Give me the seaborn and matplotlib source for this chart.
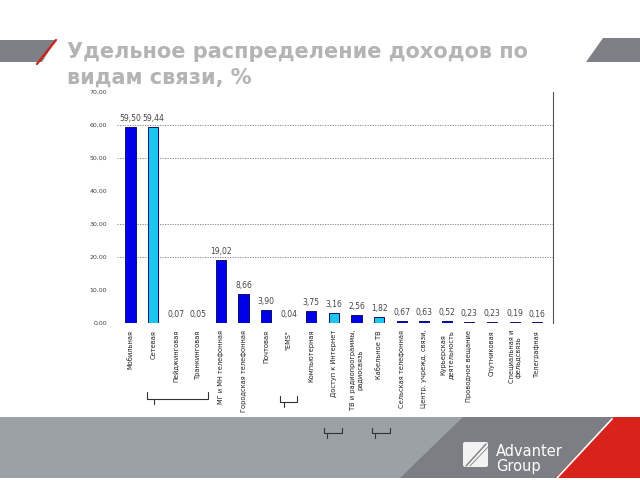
import matplotlib
matplotlib.use("Agg")
import matplotlib.pyplot as plt
import matplotlib.patches as mpatches
from matplotlib.lines import Line2D
import seaborn as sns
import pandas as pd

categories = ["Мобильная", "Сетевая", "Пейджинговая", "Транкинговая",
              "МГ и МН телефонная", "Городская телефонная", "Почтовая", "\"ЕМЅ\"",
              "Компьютерная", "Доступ к Интернет", "ТВ и радиопрограммы,\nрадиосвязь",
              "Кабельное ТВ", "Сельская телефонная", "Центр. учрежд. связи,",
              "Курьерская\nдеятельность", "Проводное вещание", "Спутниковая",
              "Специальная и\nфельдсвязь", "Телеграфная"]
values = [59.50, 59.44, 0.07, 0.05, 19.02, 8.66, 3.90, 0.04, 3.75, 3.16, 2.56,
          1.82, 0.67, 0.63, 0.52, 0.23, 0.23, 0.19, 0.16]
value_labels = ["59,50", "59,44", "0,07", "0,05", "19,02", "8,66", "3,90", "0,04",
                "3,75", "3,16", "2,56", "1,82", "0,67", "0,63", "0,52", "0,23",
                "0,23", "0,19", "0,16"]
cyan_items = ["Сетевая", "Доступ к Интернет", "Кабельное ТВ"]
yticks = [0, 10, 20, 30, 40, 50, 60, 70]
ytick_labels = ["0,00", "10,00", "20,00", "30,00", "40,00", "50,00", "60,00", "70,00"]
grid_levels = [20, 30, 50, 60]
title = "Удельное распределение доходов по\nвидам связи, %"

BLUE = "#0000E8"
CYAN = "#1CC6EE"
EDGE = "#10106A"

df = pd.DataFrame({"cat": categories, "val": values})
palette = {c: (CYAN if c in cyan_items else BLUE) for c in categories}

sns.set_style("white")
plt.rcParams['font.family'] = ['DejaVu Sans']

fig = plt.figure(figsize=(6.4, 4.8), dpi=100)
fig.patch.set_facecolor("white")

# ---- slide decorations ----
deco = fig.add_axes([0, 0, 1, 1], zorder=0)
deco.set_xlim(0, 640)
deco.set_ylim(480, 0)
deco.axis("off")
deco.add_patch(mpatches.Polygon([[0, 40], [56, 40], [42, 62], [0, 62]], closed=True,
                                color="#7d8185", lw=0))
deco.add_line(Line2D([37, 56], [64, 40], color="#d0201a", lw=1.6))
deco.add_patch(mpatches.Polygon([[603, 38], [640, 38], [640, 62], [586, 62]], closed=True,
                                color="#7d8185", lw=0))
deco.add_patch(mpatches.Rectangle((0, 417), 640, 61, color="#9ca1a5", lw=0))
deco.add_patch(mpatches.Polygon([[463, 417], [640, 417], [640, 478], [400, 478]], closed=True,
                                color="#7b7f83", lw=0))
deco.add_patch(mpatches.Polygon([[614, 417], [640, 417], [640, 478], [555, 478]], closed=True,
                                color="#d8231c", lw=0))
deco.add_line(Line2D([557, 612], [478, 419], color="white", lw=1.2))
deco.add_patch(mpatches.FancyBboxPatch((463, 442), 25, 25,
                                       boxstyle="round,pad=0,rounding_size=2",
                                       color="#f2f2f2", lw=0))
deco.add_line(Line2D([466, 486], [466, 444], color="#7b7f83", lw=1.0))
deco.add_line(Line2D([470, 488], [466, 447], color="#7b7f83", lw=0.6))
deco.text(496, 451, "Advanter", color="white", fontsize=10.5, va="center", ha="left",
          family="DejaVu Sans")
deco.text(496, 467, "Group", color="white", fontsize=10.5, va="center", ha="left",
          family="DejaVu Sans")

deco.text(67, 65, title, color="#b4b4b4", fontsize=15, fontweight="bold",
          va="center", ha="left", linespacing=1.35)

def bracket(x0, x1, y0, y1, xt):
    deco.add_line(Line2D([x0, x0, x1, x1], [y0, y1, y1, y0], color="#333333", lw=0.8))
    deco.add_line(Line2D([xt, xt], [y1, y1 + 5], color="#333333", lw=0.8))

bracket(147, 208, 392, 399, 154)
bracket(280, 297, 396, 402, 284)
bracket(324, 342, 428, 433, 327)
bracket(372, 390, 428, 433, 375)

# ---- chart ----
ax = fig.add_axes([117 / 640, (480 - 323) / 480, (553 - 117) / 640, (323 - 92) / 480], zorder=2)
ax.patch.set_alpha(0)
for lvl in grid_levels:
    ax.axhline(lvl, color="#777777", lw=0.6, ls=(0, (1.5, 1.5)), zorder=0)

sns.barplot(data=df, x="cat", y="val", hue="cat", palette=palette, legend=False,
            width=0.45, saturation=1, edgecolor=EDGE, linewidth=0.7, ax=ax, zorder=3)

ax.set_ylim(0, 70)
ax.set_xlim(-0.6, len(categories) - 0.3)
ax.set_yticks(yticks)
ax.set_yticklabels(ytick_labels, fontsize=4.5, color="#444444")
ax.tick_params(axis="y", length=3, width=0.5, color="#666666", pad=4)
ax.set_xticks(range(len(categories)))
ax.set_xticklabels(categories, rotation=90, fontsize=4.8, color="#222222",
                   va="top", ha="center", linespacing=1.3)
ax.tick_params(axis="x", length=0, pad=5)
ax.set_xticks([i + 0.5 for i in range(len(categories) - 1)], minor=True)
ax.tick_params(axis="x", which="minor", length=2, width=0.5, color="#666666")
ax.set_xlabel("")
ax.set_ylabel("")
for s in ["top", "left", "bottom"]:
    ax.spines[s].set_visible(False)
ax.spines["right"].set_color("#555555")
ax.spines["right"].set_linewidth(0.8)

for i, (v, lab) in enumerate(zip(values, value_labels)):
    ax.text(i, v + 1.2, lab, ha="center", va="bottom", fontsize=5.5, color="#444444")

fig.savefig("out.png", dpi=100)
